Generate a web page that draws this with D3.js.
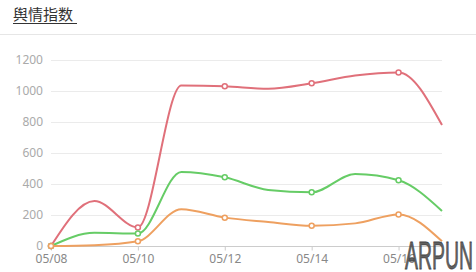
<!DOCTYPE html>
<html>
<head>
<meta charset="utf-8">
<script src="https://cdn.jsdelivr.net/npm/d3@7"></script>
<style>
  body { margin: 0; background: #fff; font-family: "Noto Sans CJK SC", "Noto Sans", sans-serif; }
</style>
</head>
<body>
<svg id="chart"></svg>
<script>
// 舆情指数 - 三条平滑折线
const dates = ["05/08", "05/09", "05/10", "05/11", "05/12", "05/13", "05/14", "05/15", "05/16", "05/17"]
const redValues = [0, 290, 120, 1035, 1030, 1015, 1050, 1100, 1120, 780]
const greenValues = [0, 85, 80, 478, 443, 362, 346, 465, 424, 226]
const orangeValues = [0, 5, 30, 237, 183, 155, 131, 146, 204, 30]
const yTicks = [0, 200, 400, 600, 800, 1000, 1200]

const series = [
    { name: "red", color: "#e0707a", values: redValues },
    { name: "green", color: "#66cc66", values: greenValues },
    { name: "orange", color: "#eea060", values: orangeValues }
]

let svgWidth = 476
let svgHeight = 272
let margin = { left: 51, right: 34, top: 60, bottom: 26 }

const svg = d3.select("#chart")
    .attr("width", svgWidth)
    .attr("height", svgHeight)

// titulo
svg.append("text")
    .attr("x", 13)
    .attr("y", 20)
    .attr("font-size", 15)
    .attr("fill", "#333")
    .text("舆情指数")

svg.append("line")
    .attr("x1", 13).attr("x2", 77)
    .attr("y1", 23.5).attr("y2", 23.5)
    .attr("stroke", "#333")

svg.append("line")
    .attr("x1", 0).attr("x2", svgWidth)
    .attr("y1", 34.5).attr("y2", 34.5)
    .attr("stroke", "#e6e6e6")

// escalas
let xScale = d3.scalePoint()
    .domain(dates)
    .range([margin.left, svgWidth - margin.right])

let yScale = d3.scaleLinear()
    .domain([0, 1200])
    .range([svgHeight - margin.bottom, margin.top])

// grelha
svg.append("g")
    .selectAll("line")
    .data(yTicks.filter(d => d > 0))
    .join("line")
    .attr("x1", margin.left)
    .attr("x2", svgWidth - margin.right)
    .attr("y1", d => Math.round(yScale(d)) + 0.5)
    .attr("y2", d => Math.round(yScale(d)) + 0.5)
    .attr("stroke", "#ebebeb")

// eixo y
const yAxis = svg.append("g")
    .attr("transform", `translate(${margin.left - 8}, 0)`)
    .call(d3.axisLeft(yScale).tickValues(yTicks).tickFormat(d3.format("d")).tickSize(0).tickPadding(0))
yAxis.select(".domain").remove()
yAxis.selectAll("text")
    .attr("fill", "#aaa")
    .attr("font-size", 12)
    .attr("font-family", "Noto Sans, sans-serif")

// eixo x
const xAxis = svg.append("g")
    .attr("transform", `translate(0, ${Math.round(yScale(0)) + 0.5})`)
    .call(d3.axisBottom(xScale)
        .tickValues(dates.filter((d, i) => i % 2 == 0))
        .tickSizeInner(4).tickSizeOuter(0).tickPadding(4))
xAxis.select(".domain").attr("stroke", "#ccc").attr("d", `M${margin.left},0H${svgWidth - margin.right}`)
xAxis.selectAll("line").attr("stroke", "#ccc")
xAxis.selectAll("text")
    .attr("fill", "#888")
    .attr("font-size", 12)
    .attr("font-family", "Noto Sans, sans-serif")

// linhas
const line = d3.line()
    .x((d, i) => xScale(dates[i]))
    .y(d => yScale(d))
    .curve(d3.curveMonotoneX)

series.forEach(s => {
    svg.append("path")
        .datum(s.values)
        .attr("fill", "none")
        .attr("stroke", s.color)
        .attr("stroke-width", 2)
        .attr("d", line)

    svg.append("g")
        .selectAll("circle")
        .data(s.values.map((v, i) => ({ v, i })).filter(d => d.i % 2 == 0))
        .join("circle")
        .attr("cx", d => xScale(dates[d.i]))
        .attr("cy", d => yScale(d.v))
        .attr("r", 2.5)
        .attr("fill", "#fff")
        .attr("stroke", s.color)
        .attr("stroke-width", 1.5)
})

// marca de agua
svg.append("text")
    .attr("x", 405)
    .attr("y", 269)
    .attr("font-size", 38)
    .attr("font-family", "Liberation Sans Narrow, Liberation Sans, sans-serif")
    .attr("textLength", 68)
    .attr("lengthAdjust", "spacingAndGlyphs")
    .attr("fill", "#444")
    .attr("stroke", "#444")
    .attr("stroke-width", 0.8)
    .attr("fill-opacity", 0.85)
    .text("ARPUN")
</script>
</body>
</html>
